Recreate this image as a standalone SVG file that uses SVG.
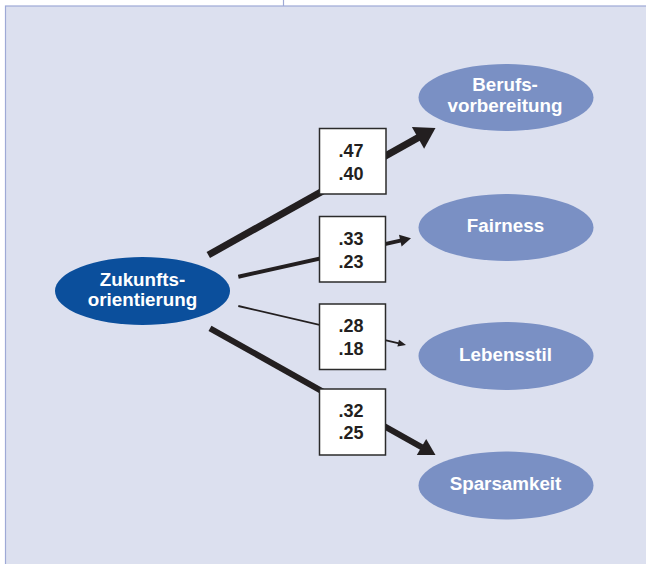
<svg xmlns="http://www.w3.org/2000/svg" width="646" height="564" viewBox="0 0 646 564">
<style>
.lbl{font-family:"Liberation Sans",Arial,sans-serif;font-weight:bold;font-size:18.8px;fill:#ffffff;text-anchor:middle}
.num{font-family:"Liberation Sans",Arial,sans-serif;font-weight:bold;font-size:18px;fill:#231f20;text-anchor:middle}
.box{fill:#ffffff;stroke:#2b2b2b;stroke-width:1.5}
.dep{fill:#7a90c4}
.con{stroke:#231f20;fill:none;stroke-linecap:butt}
.head{fill:#231f20}
</style>
<rect x="0" y="0" width="646" height="564" fill="#ffffff"/>
<rect x="5.5" y="6" width="645" height="565" fill="#dce0ef" stroke="#9ea9d6" stroke-width="1.2"/>
<line x1="283.5" y1="0" x2="283.5" y2="6" stroke="#9ea9d6" stroke-width="1.2"/>

<g id="connectors">
  <line class="con" x1="208.3" y1="255" x2="419.5" y2="136.9" stroke-width="7"/>
  <polygon class="head" points="435.5,128 424.1,148.7 411.9,126.9"/>
  <line class="con" x1="238.3" y1="276.7" x2="401.5" y2="240.4" stroke-width="4"/>
  <polygon class="head" points="411,238.3 401.6,246.6 399,234.8"/>
  <line class="con" x1="238.3" y1="306" x2="399" y2="343.4" stroke-width="1.8"/>
  <polygon class="head" points="406,345 397.4,346.6 399,339.8"/>
  <line class="con" x1="210" y1="328.3" x2="422" y2="447.4" stroke-width="6"/>
  <polygon class="head" points="435.5,455 416.8,455 426.2,439"/>
</g>

<g id="w1"><rect class="box" x="319.5" y="128.5" width="66.5" height="65.5"/><text class="num" x="351" y="157"><tspan x="351">.47</tspan><tspan x="351" y="179.7">.40</tspan></text></g>
<g id="w2"><rect class="box" x="319.5" y="216.5" width="66" height="65.5"/><text class="num" x="351" y="245"><tspan x="351">.33</tspan><tspan x="351" y="267.7">.23</tspan></text></g>
<g id="w3"><rect class="box" x="319.5" y="304" width="66" height="65.5"/><text class="num" x="351" y="332.3"><tspan x="351">.28</tspan><tspan x="351" y="355">.18</tspan></text></g>
<g id="w4"><rect class="box" x="319.5" y="389" width="66" height="66"/><text class="num" x="351" y="416.7"><tspan x="351">.32</tspan><tspan x="351" y="439.3">.25</tspan></text></g>

<g id="zukunft"><ellipse cx="142.5" cy="291" rx="87.5" ry="34" fill="#0b4f9c"/><text class="lbl" x="142.5" y="286"><tspan x="142.5">Zukunfts-</tspan><tspan x="142.5" y="306">orientierung</tspan></text></g>
<g id="beruf"><ellipse class="dep" cx="506" cy="97.5" rx="87.5" ry="33.5"/><text class="lbl" x="505" y="91"><tspan x="505">Berufs-</tspan><tspan x="505" y="111.7">vorbereitung</tspan></text></g>
<g id="fair"><ellipse class="dep" cx="506" cy="227.5" rx="87.5" ry="33.5"/><text class="lbl" x="505.5" y="231.7">Fairness</text></g>
<g id="leben"><ellipse class="dep" cx="506" cy="356" rx="87.5" ry="34"/><text class="lbl" x="505.5" y="360.7">Lebensstil</text></g>
<g id="spar"><ellipse class="dep" cx="506" cy="485.5" rx="87.5" ry="34"/><text class="lbl" x="505.5" y="490">Sparsamkeit</text></g>
</svg>
